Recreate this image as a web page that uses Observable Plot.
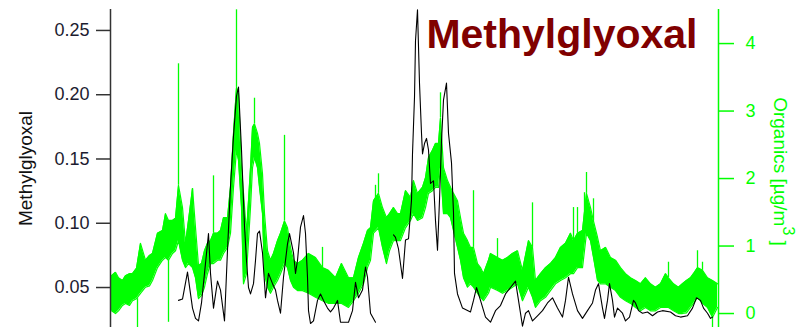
<!DOCTYPE html>
<html><head><meta charset="utf-8">
<script src="https://cdn.jsdelivr.net/npm/d3@7"></script>
<script src="https://cdn.jsdelivr.net/npm/@observablehq/plot@0.6"></script>
<style>body{margin:0;background:#fff} #chart{width:799px;height:327px}</style>
</head><body><div id="chart"></div>
<script>
// ---- Methylglyoxal (left axis), time index t ----
const bT = [17.0,18.0,19.25,20.5,21.25,22.0,22.75,23.5,24.5,25.0,25.75,26.75,27.5,28.5,29.25,30.0,30.75,31.5,32.0,32.75,33.25,33.5,34.0,34.5,35.0,35.75,36.25,36.75,37.25,38.0,38.75,39.5,40.5,41.25,41.75,42.5,43.25,44.25,44.75,45.75,46.25,46.75,47.5,48.25,48.75,49.25,49.5,50.0,50.75,51.75,52.5,53.25,54.25,55.0,55.75,56.75,57.5,59.5,60.5,61.25,62.0,63.0,63.75,64.25,65.0,66.25,
  68.5,
  70.75,71.25,72.0,73.0,73.75,74.5,75.25,75.5,76.0,76.25,76.75,77.25,77.75,78.0,78.5,79.0,79.5,80.0,80.75,81.25,81.75,82.25,82.75,83.25,84.0,84.5,85.25,85.75,86.0,86.75,88.0,90.0,90.75,91.5,92.5,93.75,95.0,96.25,97.5,98.75,100.0,101.25,102.0,103.0,103.75,104.5,105.5,106.75,108.0,109.25,110.5,111.75,113.0,113.75,114.5,115.5,116.75,118.0,119.25,120.5,121.25,122.0,123.0,123.5,124.25,124.75,125.5,126.0,126.75,128.0,128.75,129.75,130.75,131.25,132.0,133.0,134.25,135.5,136.75,138.0,140.0,141.25,142.5,144.25,145.5,146.5,147.5,148.25,149.25,150.0,150.5];
const bV = [0.040,0.041,0.062,0.034,0.026,0.024,0.038,0.061,0.092,0.061,0.034,0.055,0.048,0.024,0.079,0.129,0.168,0.199,0.206,0.157,0.118,0.098,0.071,0.050,0.045,0.053,0.071,0.092,0.094,0.077,0.042,0.061,0.053,0.048,0.040,0.030,0.058,0.084,0.092,0.077,0.061,0.071,0.097,0.106,0.092,0.058,0.032,0.022,0.024,0.040,0.045,0.040,0.034,0.031,0.034,0.040,0.023,0.023,0.032,0.054,0.042,0.048,0.066,0.058,0.030,0.023,
  null,
  0.091,0.089,0.080,0.057,0.087,0.088,0.118,0.154,0.198,0.242,0.266,0.209,0.170,0.154,0.162,0.166,0.157,0.131,0.133,0.102,0.079,0.118,0.164,0.196,0.209,0.170,0.147,0.108,0.061,0.045,0.034,0.031,0.040,0.050,0.040,0.027,0.023,0.032,0.036,0.045,0.050,0.055,0.040,0.020,0.030,0.032,0.024,0.028,0.032,0.038,0.042,0.034,0.027,0.040,0.058,0.045,0.032,0.026,0.032,0.038,0.048,0.053,0.034,0.026,0.040,0.053,0.040,0.027,0.034,0.030,0.024,0.027,0.040,0.038,0.032,0.030,0.031,0.028,0.031,0.032,0.031,0.028,0.027,0.028,0.034,0.042,0.040,0.034,0.030,0.026,0.027];

// ---- Organics (right axis, µg/m3): upper / lower edge of the noisy trace ----
const gT = [0.25,1.25,2.0,3.0,3.75,4.75,5.5,6.5,7.5,8.75,9.75,10.5,11.75,13.0,13.75,14.5,15.5,16.25,17.0,18.0,18.75,19.5,20.5,21.25,22.0,22.75,23.5,24.25,25.0,25.75,26.75,27.5,28.25,29.25,30.0,30.75,31.5,32.0,32.75,33.25,34.0,34.5,35.0,35.5,36.0,36.75,37.25,38.0,38.5,39.25,40.0,40.75,41.75,42.5,43.5,44.25,45.0,45.75,46.75,48.0,49.5,51.25,53.0,54.5,56.25,57.75,59.5,60.75,62.0,63.25,64.25,65.0,65.75,67.0,68.0,69.0,69.75,70.75,71.75,72.5,73.75,75.0,75.75,76.75,78.0,78.75,79.5,80.5,81.25,82.0,82.5,83.25,84.25,85.0,85.75,86.75,87.5,88.25,89.25,90.0,90.75,91.75,92.5,93.25,94.5,95.0,96.75,98.0,99.25,100.5,101.75,103.0,104.5,105.5,106.25,107.5,108.75,110.0,111.25,112.5,113.75,115.0,115.75,116.75,118.0,119.0,120.0,120.75,121.75,122.5,123.75,125.0,126.25,127.5,128.75,130.0,131.25,132.5,133.75,135.0,136.25,137.5,138.75,139.5,140.75,142.0,143.0,144.0,145.0,145.75,146.75,148.0,149.25,150.5,151.75];
const gHi = [0.56,0.61,0.53,0.49,0.56,0.59,0.59,0.67,1.04,0.79,0.86,0.89,1.19,1.23,1.48,1.38,1.38,1.41,1.90,1.57,1.04,1.38,1.85,1.27,0.71,0.74,0.93,1.04,1.08,1.19,1.19,1.23,1.42,1.42,1.87,2.67,3.35,3.26,2.16,1.78,1.19,1.67,2.16,2.76,2.81,2.67,2.52,2.07,1.48,0.93,0.79,0.89,1.08,1.19,1.37,1.27,0.98,0.79,0.74,0.79,0.89,0.83,0.68,0.64,0.53,0.74,0.53,0.53,0.83,1.04,1.23,1.27,1.67,1.78,1.57,1.42,1.48,1.57,1.48,1.48,1.82,1.72,1.97,1.78,1.87,2.01,2.31,2.42,2.52,2.52,2.90,2.16,1.97,1.87,1.78,1.67,1.42,1.19,1.08,0.98,0.98,0.74,0.68,0.59,0.79,0.89,0.83,0.79,0.83,0.89,0.93,0.64,1.08,0.98,0.49,0.59,0.68,0.74,0.83,0.98,1.04,1.19,1.08,1.19,1.23,1.78,1.57,1.37,1.13,0.93,0.98,0.83,0.79,0.68,0.59,0.53,0.49,0.44,0.53,0.44,0.39,0.44,0.59,0.53,0.44,0.39,0.44,0.49,0.53,0.59,0.68,0.64,0.53,0.49,0.44];
const gLo = [0.04,0.00,0.04,0.12,0.15,0.12,0.19,0.22,0.30,0.39,0.41,0.49,0.68,0.79,0.83,0.79,0.89,0.93,1.08,0.79,0.68,0.74,0.68,0.53,0.22,0.27,0.39,0.59,0.74,0.74,0.79,0.79,0.89,0.98,1.19,1.87,2.42,2.27,1.57,0.44,0.59,1.08,1.57,2.16,2.31,2.16,1.87,1.48,0.59,0.39,0.30,0.39,0.49,0.59,0.74,0.68,0.49,0.39,0.34,0.34,0.30,0.24,0.19,0.15,0.15,0.15,0.09,0.19,0.30,0.44,0.68,0.79,1.19,1.27,0.98,0.74,0.93,1.08,1.08,1.08,1.27,1.38,1.48,1.38,1.42,1.57,1.78,1.82,1.87,1.87,2.16,1.48,1.48,1.42,1.23,0.98,0.79,0.53,0.39,0.44,0.39,0.30,0.24,0.19,0.30,0.39,0.34,0.30,0.34,0.39,0.44,0.19,0.39,0.24,0.09,0.19,0.24,0.34,0.44,0.49,0.53,0.59,0.59,0.68,0.68,1.19,1.08,0.83,0.49,0.44,0.44,0.39,0.34,0.24,0.19,0.15,0.09,0.04,0.09,0.04,0.04,0.09,0.09,0.09,0.04,0.00,0.00,0.01,0.09,0.15,0.24,0.15,0.09,-0.06,0.09];
// single-sample spikes of the organics trace
const spikeT = [6.75,14.5,17.0,20.5,25.75,31.5,36.0,43.5,53.0,66.25,67.0,82.5,90.75,96.75,105.5,115.75,116.75,118.5,119.0,120.75,139.5,146.75,148.0,150.5];
const spikeV = [-0.21,-0.13,3.70,1.85,2.04,4.50,3.19,2.64,0.98,1.90,2.07,3.27,1.82,1.11,1.64,1.57,1.57,1.79,2.09,1.70,0.76,0.93,0.76,-0.22];

const leftTicks = [0.05,0.10,0.15,0.20,0.25];
const rightTicks = [0,1,2,3,4];
const titleText = "Methylglyoxal";
const leftLabel = "Methylglyoxal";
const rightLabel = "Organics [µg/m";
const rightLabelSup = "3";
const rightLabelEnd = " ]";

// dual-axis alignment: organics 0 ↔ 0.02977, organics 4 ↔ 0.2398 on the left scale
const A = 0.02977, B = (0.2398 - 0.02977) / 4;
const g2v = g => A + B * g;
const green = "#00ff00";

const band = gT.map((t, i) => ({t, hi: g2v(gHi[i]), lo: g2v(gLo[i])}));
const black = bT.map((t, i) => ({t, v: bV[i]}));
const spikes = spikeT.map((t, i) => {
  let j = 0, best = Infinity;
  gT.forEach((u, k) => { const d = Math.abs(u - t); if (d < best) { best = d; j = k; } });
  const base = spikeV[i] > gHi[j] ? gHi[j] : gLo[j];
  return {t, y1: g2v(base), y2: g2v(spikeV[i])};
});

const chart = Plot.plot({
  width: 799, height: 327,
  marginLeft: 110, marginRight: 81, marginTop: 9, marginBottom: 0,
  x: {domain: [0, 152], axis: null},
  y: {domain: [0.0189, 0.2663], axis: null, label: null},
  style: {fontFamily: "'Liberation Sans', Arial, sans-serif", fontSize: "18px", background: "white"},
  marks: [
    Plot.areaY(band, {x: "t", y1: "lo", y2: "hi", fill: green}),
    Plot.lineY(band, {x: "t", y: "hi", stroke: green, strokeWidth: 1.2}),
    Plot.lineY(band, {x: "t", y: "lo", stroke: green, strokeWidth: 1.2}),
    Plot.ruleX(spikes, {x: "t", y1: "y1", y2: "y2", stroke: green, strokeWidth: 1.3}),
    Plot.lineY(black, {x: "t", y: "v", stroke: "black", strokeWidth: 1.1}),
    Plot.ruleX([0], {stroke: "#333", strokeWidth: 1.5}),
    Plot.ruleX([152], {stroke: green, strokeWidth: 1.5}),
    Plot.axisY(leftTicks, {anchor: "left", tickSize: 14, tickPadding: 7, tickFormat: d => d.toFixed(2),
      stroke: "#333", strokeWidth: 1.5, fill: "#1c1c30", fontSize: 18, label: null}),
    Plot.axisY(rightTicks.map(g2v), {anchor: "right", tickSize: 15, tickPadding: 12,
      tickFormat: d => String(Math.round((d - A) / B)),
      stroke: green, strokeWidth: 1.5, fill: green, fontSize: 18, label: null}),
    Plot.text([leftLabel], {frameAnchor: "left", dx: -85, rotate: -90, textAnchor: "middle", fontSize: 19, fill: "#111"}),
    Plot.text([rightLabel], {frameAnchor: "right", dx: 62, dy: 3, rotate: 90, textAnchor: "middle", fontSize: 19, fill: green, className: "rlabel"}),
    Plot.text([titleText], {frameAnchor: "top-right", dx: -21, dy: 38, textAnchor: "end", lineAnchor: "bottom",
      fontSize: 41, fontWeight: "bold", fill: "#800000"})
  ]
});
// superscript "3" and closing bracket for the right-axis label
d3.select(chart).selectAll("g.rlabel text").each(function() {
  const t = d3.select(this);
  t.append("tspan").attr("dy", "-0.55em").attr("font-size", "16px").text(rightLabelSup);
  t.append("tspan").attr("dy", "0.55em").text(rightLabelEnd);
});
document.getElementById("chart").append(chart);
</script></body></html>
